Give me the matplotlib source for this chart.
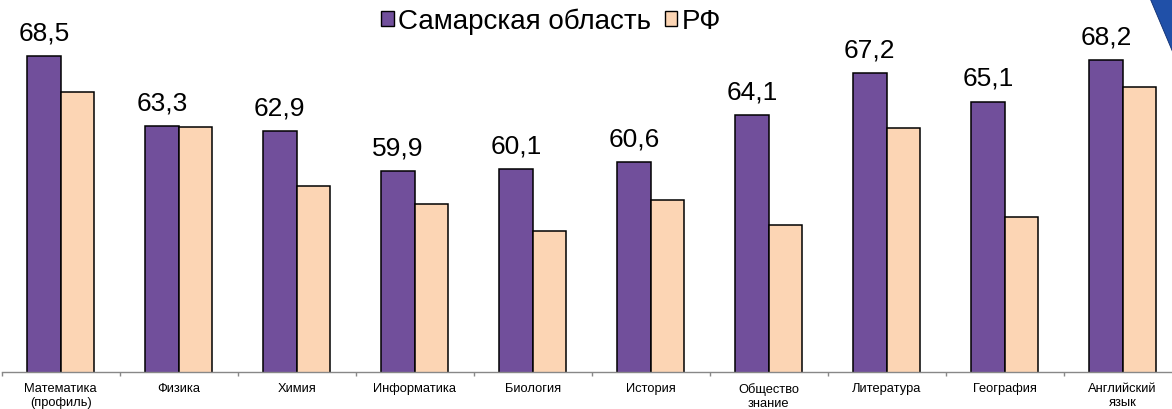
import matplotlib
matplotlib.use("Agg")
import matplotlib.pyplot as plt
from matplotlib.patches import Patch, Polygon
import numpy as np

plt.rcParams['font.family'] = ['Liberation Sans', 'DejaVu Sans']

# data
subjects = ["Математика\n(профиль)", "Физика", "Химия", "Информатика", "Биология",
            "История", "Общество\nзнание", "Литература", "География", "Английский\nязык"]
samara = [68.5, 63.3, 62.9, 59.9, 60.1, 60.6, 64.1, 67.2, 65.1, 68.2]
rf = [65.8, 63.2, 58.8, 57.5, 55.5, 57.8, 55.9, 63.1, 56.5, 66.2]
series_names = ["Самарская область", "РФ"]

purple = "#714f9b"
peach = "#fcd5b4"

W, H = 1172, 410
fig = plt.figure(figsize=(W / 100, H / 100), dpi=100)

# axes: baseline at y=372.7 px, 118 px per category, left edge at 1.7 px
ax_left = 1.7 / W
ax_bottom = (H - 372.7) / H
ax = fig.add_axes([ax_left, ax_bottom, 1180 / W, 1 - ax_bottom])

x = np.arange(len(subjects))
bw = 0.286
ax.bar(x - bw / 2, samara, bw, color=purple, edgecolor="black", linewidth=1.1)
ax.bar(x + bw / 2, rf, bw, color=peach, edgecolor="black", linewidth=1.1)

for xi, v in zip(x, samara):
    ax.annotate(f"{v:.1f}".replace(".", ","), (xi - bw / 2, v), xytext=(0, 12),
                textcoords="offset points", ha="center", va="baseline", fontsize=19)

ax.set_xlim(-0.5, len(subjects) - 0.5)
ax.set_ylim(45, 45 + 372.7 / 13.44)

for s in ["top", "right", "left"]:
    ax.spines[s].set_visible(False)
ax.spines["bottom"].set_color("#888888")
ax.spines["bottom"].set_linewidth(1.0)
ax.set_yticks([])

ax.set_xticks(x)
ax.set_xticklabels(subjects, fontsize=9.3)
ax.tick_params(axis="x", which="major", length=0, pad=7.5)
ax.set_xticks(np.arange(-0.5, len(subjects)), minor=True)
ax.tick_params(axis="x", which="minor", length=3, color="#888888", width=1.0)

handles = [Patch(facecolor=purple, edgecolor="black", linewidth=1.0),
           Patch(facecolor=peach, edgecolor="black", linewidth=1.0)]
fig.legend(handles, series_names, loc="center", bbox_to_anchor=(551 / W, 1 - 22 / H),
           ncol=2, frameon=False, fontsize=20, handlelength=0.45, handleheight=0.45,
           handletextpad=0.15, columnspacing=0.5, borderpad=0)

# decorative corner
fig.add_artist(Polygon([[1150 / W, 1.0], [1.0, 1.0], [1.0, 1 - 52 / H]],
                       closed=True, transform=fig.transFigure,
                       facecolor="#2050a8", edgecolor="#0d2d70", linewidth=0.6))

fig.savefig("out.png", dpi=100)
